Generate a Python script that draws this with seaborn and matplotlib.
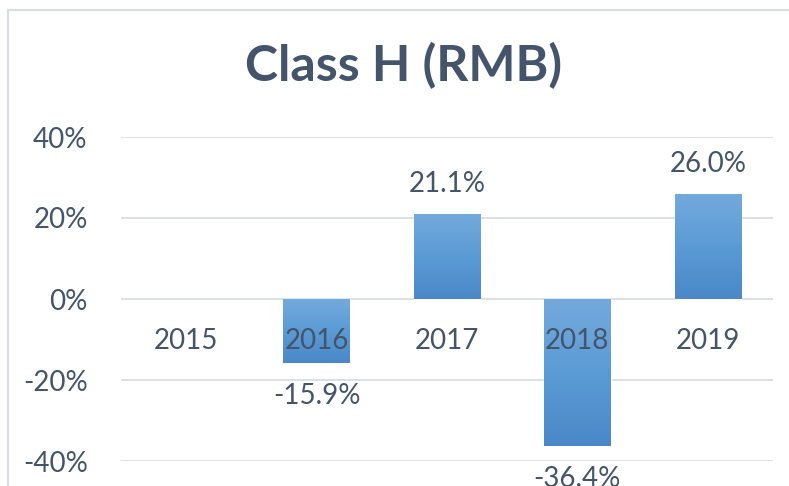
### Bibliotecas
import matplotlib
matplotlib.use("Agg")
import matplotlib.pyplot as plt
from matplotlib.patches import Rectangle
from matplotlib.colors import LinearSegmentedColormap
import numpy as np
import pandas as pd
import seaborn as sns

### Dados (retorno anual, %)
anos = ["2015", "2016", "2017", "2018", "2019"]
retornos = [np.nan, -15.9, 21.1, -36.4, 26.0]
rotulos = ["", "-15.9%", "21.1%", "-36.4%", "26.0%"]
ticks_y = [-40, -20, 0, 20, 40]
titulo = "Class H (RMB)"

### Estilo
cor_texto = "#44546A"
cor_grade = "#D9DDE3"
degrade = LinearSegmentedColormap.from_list("barra", ["#4A88C8", "#5B9BD5", "#74AADD"])

sns.set_style("white")
plt.rcParams["font.family"] = ["Lato", "DejaVu Sans"]

df = pd.DataFrame({"ano": anos, "retorno": retornos})

fig = plt.figure(figsize=(7.89, 4.86), dpi=100)
ax = fig.add_axes([121/789, 25/486, 652/789, 324/486])

sns.barplot(data=df, x="ano", y="retorno", color="#5B9BD5", width=0.51,
            saturation=1, ax=ax, zorder=3)

ax.set_ylim(-40, 40)
ax.set_xlim(-0.5, 4.5)
ax.set_yticks(ticks_y)
ax.set_yticklabels([f"{t}%" for t in ticks_y], color=cor_texto, fontsize=20)
ax.tick_params(axis="y", length=0, pad=24)
ax.set_xticks([])
ax.set_xlabel("")
ax.set_ylabel("")
for lado in ax.spines.values():
    lado.set_visible(False)
for t in ticks_y:
    ax.axhline(t, color=cor_grade, lw=1.3, zorder=1)

# degradê nas barras
gradiente = np.linspace(0, 1, 256).reshape(-1, 1)
for barra in ax.patches:
    x0, y0 = barra.get_x(), barra.get_y()
    w, h = barra.get_width(), barra.get_height()
    if np.isnan(h) or h == 0:
        continue
    y_baixo, y_cima = min(y0, y0 + h), max(y0, y0 + h)
    img = ax.imshow(gradiente, cmap=degrade, aspect="auto", origin="lower",
                    extent=[x0, x0 + w, y_baixo, y_cima], zorder=4)
    img.set_clip_path(barra)
ax.set_xlim(-0.5, 4.5)
ax.set_ylim(-40, 40)

# categorias perto do zero
for i, ano in enumerate(anos):
    ax.annotate(ano, (i, 0), xytext=(0, -42), textcoords="offset pixels",
                ha="center", va="center", fontsize=20, color=cor_texto, zorder=6)

# rótulos de dados
for i, (v, r) in enumerate(zip(retornos, rotulos)):
    if np.isnan(v):
        continue
    desloc = 30 if v > 0 else -33
    ax.annotate(r, (i, v), xytext=(0, desloc), textcoords="offset pixels",
                ha="center", va="center", fontsize=20, color=cor_texto, zorder=6)

fig.suptitle(titulo, x=404/789, y=1 - 66/486, va="center", fontsize=36,
             fontweight="bold", color=cor_texto)

# moldura do gráfico
fig.add_artist(Rectangle((8/789, -0.5), 1.5, 1.5 - 10/486, transform=fig.transFigure,
                         fill=False, edgecolor=cor_grade, lw=1.5, clip_on=False))

plt.savefig("out.png", dpi=100)
